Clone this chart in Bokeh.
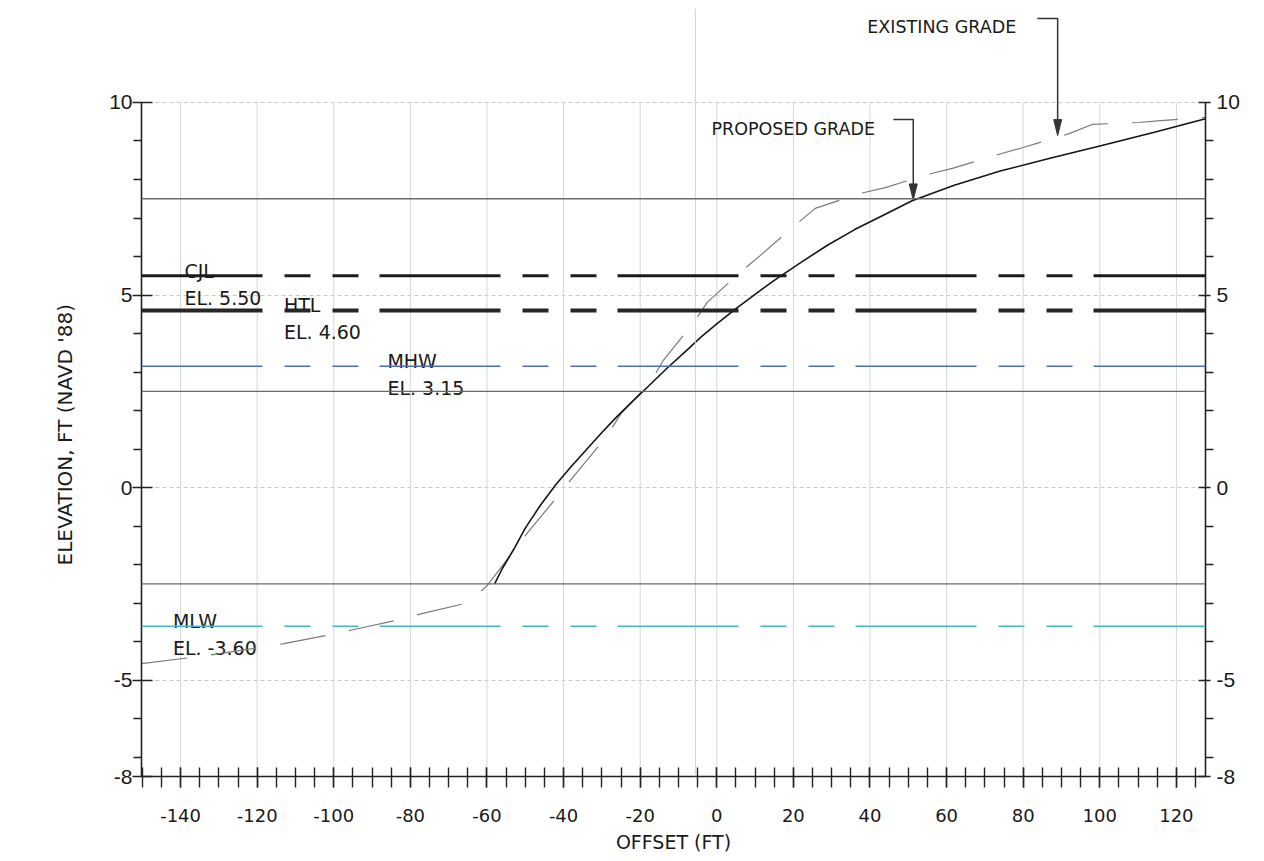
from bokeh.plotting import figure
from bokeh.models import LinearAxis, FixedTicker, Span, ColumnDataSource, Title
from bokeh.core.properties import value
from bokeh.embed import file_html
from bokeh.resources import INLINE

# ---------------- data ----------------
proposed_x = [-58, -56, -53, -50, -46, -42, -38, -34, -30, -26, -22, -18, -13, -8, -4, 0, 5, 10, 15,
              22, 29, 36, 44, 51, 62, 74, 87, 100, 114, 127.6]
proposed_y = [-2.5, -2.1, -1.6, -1.05, -0.45, 0.08, 0.55, 0.99, 1.43, 1.85, 2.24, 2.62, 3.1, 3.55, 3.92,
              4.25, 4.65, 5.02, 5.38, 5.85, 6.3, 6.7, 7.1, 7.45, 7.85, 8.22, 8.55, 8.87, 9.22, 9.58]

existing_x = [-150.2, -138, -132, -120, -113, -101, -95, -83, -77, -65, -60, -49, -41, -37, -29, -25,
              -17, -14, -6, -2.5, 6.7, 11.4, 21, 25.7, 37.5, 44, 55, 61.5, 73.5, 80, 92, 98, 110, 116, 127.6]
existing_y = [-4.57, -4.42, -4.34, -4.16, -4.05, -3.82, -3.69, -3.43, -3.27, -2.99, -2.55, -1.12, -0.16, 0.34,
              1.30, 1.92, 2.78, 3.30, 4.29, 4.81, 5.64, 6.03, 6.86, 7.25, 7.64, 7.79, 8.13, 8.29, 8.65, 8.83,
              9.19, 9.43, 9.48, 9.53, 9.61]

level_names = ["CJL", "HTL", "MHW", "MLW"]
level_values = [5.50, 4.60, 3.15, -3.60]
level_colors = ["#1c1c1c", "#262626", "#4a6cc4", "#3fb8c9"]
level_widths = [3, 4, 1.5, 1.5]
level_label_x = [-139, -113, -86, -142]

ref_lines = [7.5, 2.5, -2.5]

x_major = list(range(-140, 121, 20))
x_minor = list(range(-150, 126, 5))
y_major = [-7.5, -5, 0, 5, 10]
y_major_labels = ["-8", "-5", "0", "5", "10"]
y_minor = [-7, -6, -4, -3, -2, -1, 1, 2, 3, 4, 6, 7, 8, 9]
y_grid = [-5, 0, 5, 10]

annot_text = ["PROPOSED GRADE", "EXISTING GRADE"]
annot_text_x = [-1.4, 39.3]
annot_text_y = [9.32, 11.95]
annot_elbow_x = [46.1, 83.7]
annot_elbow_y = [9.56, 12.18]
annot_tip_x = [51.3, 89.0]
annot_tip_y = [7.47, 9.14]

fold_x = -5.6

x_title = "OFFSET (FT)"
y_title = "ELEVATION, FT (NAVD '88)"

# ---------------- layout ----------------
X_MIN, X_MAX = -150.2, 127.6
Y_MIN, Y_TOP, Y_RANGE_TOP = -7.5, 10, 12.44
FRAME_W, FRAME_H = 1064, 768
SX = FRAME_W / (X_MAX - X_MIN)
SY = FRAME_H / (Y_RANGE_TOP - Y_MIN)

TXT = "#1a1a1a"
FONT = "DejaVu Sans"

p = figure(frame_width=FRAME_W, frame_height=FRAME_H,
           x_range=(X_MIN, X_MAX), y_range=(Y_MIN, Y_RANGE_TOP),
           output_backend="svg", toolbar_location=None,
           min_border_left=141, min_border_right=51, min_border_top=8, min_border_bottom=84)
p.outline_line_color = None
p.background_fill_color = "white"
p.border_fill_color = "white"

# grids
p.xgrid.visible = False
p.ygrid.ticker = FixedTicker(ticks=y_grid)
p.ygrid.grid_line_color = "#c9c9c9"
p.ygrid.grid_line_dash = "4 3"
p.ygrid.grid_line_width = 1
p.segment(x0=x_major, y0=[Y_MIN] * len(x_major), x1=x_major, y1=[Y_TOP] * len(x_major),
          line_color="#d6d6d6", line_width=1)
p.add_layout(Span(location=fold_x, dimension="height", line_color="#d2d2d2", line_width=1))

# reference lines
for r in ref_lines:
    p.add_layout(Span(location=r, dimension="width", line_color="#6a6a6a", line_width=1.3))

# level lines
DASH = "121 22 26 22 26 21"
for v, c, w in zip(level_values, level_colors, level_widths):
    p.add_layout(Span(location=v, dimension="width", line_color=c, line_width=w, line_dash=DASH))

# level labels
src_lv = ColumnDataSource(dict(x=level_label_x, y=level_values, name=level_names,
                               el=[f"EL. {v:.2f}" for v in level_values]))
p.text(x="x", y="y", text="name", source=src_lv, y_offset=-5, text_baseline="alphabetic",
       text_font=value(FONT), text_font_size="19px", text_color=TXT)
p.text(x="x", y="y", text="el", source=src_lv, y_offset=22, text_baseline="alphabetic",
       text_font=value(FONT), text_font_size="19px", text_color=TXT)

# grades
p.line(existing_x, existing_y, line_color="#7a7a7a", line_width=1.2, line_dash="46 24")
p.line(proposed_x, proposed_y, line_color="#151515", line_width=1.6)

# annotations
p.text(x=annot_text_x, y=annot_text_y, text=annot_text, text_baseline="alphabetic",
       text_font=value(FONT), text_font_size="17.5px", text_color=TXT)
for ex, ey, tx, ty in zip(annot_elbow_x, annot_elbow_y, annot_tip_x, annot_tip_y):
    head_len = 16 / SY
    head_half = 4 / SX
    p.line([ex, tx, tx], [ey, ey, ty + head_len * 0.5], line_color="#333333", line_width=1.5)
    p.patch([tx - head_half, tx + head_half, tx], [ty + head_len, ty + head_len, ty],
            fill_color="#333333", line_color="#333333", line_width=1)

# axes
x_over = {t: str(t) for t in x_major}
xa = p.xaxis[0]
xa.ticker = FixedTicker(ticks=x_major, minor_ticks=x_minor)
xa.major_label_overrides = x_over
xa.major_label_text_font = FONT
xa.major_label_text_font_size = "18px"
xa.major_label_text_color = TXT
xa.major_label_standoff = 21
xa.major_tick_in, xa.major_tick_out = 9, 11
xa.minor_tick_in, xa.minor_tick_out = 9, 11
xa.axis_line_color = xa.major_tick_line_color = xa.minor_tick_line_color = "#222222"
xa.axis_line_width = 1.6
xa.major_tick_line_width = xa.minor_tick_line_width = 1.4
xa.axis_label = x_title
xa.axis_label_text_font = FONT
xa.axis_label_text_font_size = "19px"
xa.axis_label_text_font_style = "normal"
xa.axis_label_text_color = TXT
xa.axis_label_standoff = 6

y_over = {t: l for t, l in zip(y_major, y_major_labels)}


def style_y(a, tin, tout, standoff):
    a.ticker = FixedTicker(ticks=y_major, minor_ticks=y_minor)
    a.major_label_overrides = y_over
    a.bounds = (Y_MIN, Y_TOP)
    a.major_label_text_font = "Liberation Sans"
    a.major_label_text_font_size = "21px"
    a.major_label_text_color = TXT
    a.major_label_standoff = standoff
    a.major_tick_in, a.major_tick_out = tin, tout
    a.minor_tick_in, a.minor_tick_out = 0, 8
    a.axis_line_color = a.major_tick_line_color = a.minor_tick_line_color = "#222222"
    a.axis_line_width = 1.6
    a.major_tick_line_width = a.minor_tick_line_width = 1.4


ya = p.yaxis[0]
style_y(ya, 11, 9, 0)

yr = LinearAxis()
style_y(yr, 7, 5, 3)
p.add_layout(yr, "right")

# y title as a side title, shifted along the axis like the reference
p.add_layout(Title(text=y_title, align="left", offset=211, standoff=60,
                   text_font=FONT, text_font_size="20px", text_font_style="normal",
                   text_color=TXT), "left")

open("out.html", "w").write(file_html(p, INLINE))
